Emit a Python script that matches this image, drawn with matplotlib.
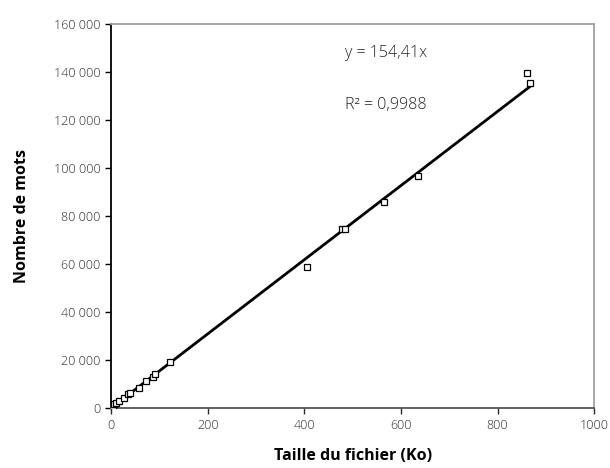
import matplotlib.pyplot as plt
import numpy as np

plt.rcParams['font.family'] = ['Open Sans', 'DejaVu Sans']

# données
taille_ko = [1, 2, 4, 7, 10, 17, 27, 36, 39, 58, 72, 86, 92, 122,
             405, 478, 485, 565, 636, 862, 868]
nb_mots = [100, 400, 900, 1500, 2200, 2900, 4300, 5700, 6400, 8500, 11200,
           12900, 14000, 19000, 58800, 74500, 74500, 85800, 96500, 139500, 135500]
pente = 154.41
r2 = '0,9988'

x_ticks = [0, 200, 400, 600, 800, 1000]
y_ticks = list(range(0, 160001, 20000))

fig = plt.figure(figsize=(6.1, 4.68), dpi=100)
ax = fig.add_axes([0.182, 0.128, 0.792, 0.821])

# courbe de tendance
xl = np.array([0, max(taille_ko)])
ax.plot(xl, pente * xl, color='black', linewidth=2, zorder=2)

# points
ax.plot(taille_ko, nb_mots, linestyle='none', marker='s', markersize=4.6,
        markerfacecolor='white', markeredgecolor='black', markeredgewidth=0.9, zorder=3)

ax.set_xlim(0, 1000)
ax.set_ylim(0, 160000)
ax.set_xticks(x_ticks)
ax.set_yticks(y_ticks)
ax.set_yticklabels([f'{v:,}'.replace(',', ' ') for v in y_ticks])
ax.tick_params(labelsize=9, colors='#2a2a2a', length=4, width=1)
ax.tick_params(axis='y', color='black')
for lab in ax.get_xticklabels() + ax.get_yticklabels():
    lab.set_fontweight('light')

ax.spines['left'].set_color('black')
ax.spines['left'].set_linewidth(1.3)
ax.spines['bottom'].set_color('#555555')
ax.spines['bottom'].set_linewidth(1.3)
ax.spines['top'].set_color('#a0a0a8')
ax.spines['right'].set_color('#a0a0a8')
ax.spines['top'].set_linewidth(1.3)
ax.spines['right'].set_linewidth(1.3)

ax.text(0.485, 0.925, f'y = {pente:.2f}x'.replace('.', ','), transform=ax.transAxes,
        fontsize=11.5, fontweight='light', color='#222222', va='center')
ax.text(0.485, 0.79, f'R² = {r2}', transform=ax.transAxes,
        fontsize=11.5, fontweight='light', color='#222222', va='center')

ax.set_xlabel('Taille du fichier (Ko)', fontsize=11.5, fontweight='bold', labelpad=12)
ax.set_ylabel('Nombre de mots', fontsize=11.5, fontweight='bold', labelpad=17)

plt.savefig('out.png', dpi=100)
